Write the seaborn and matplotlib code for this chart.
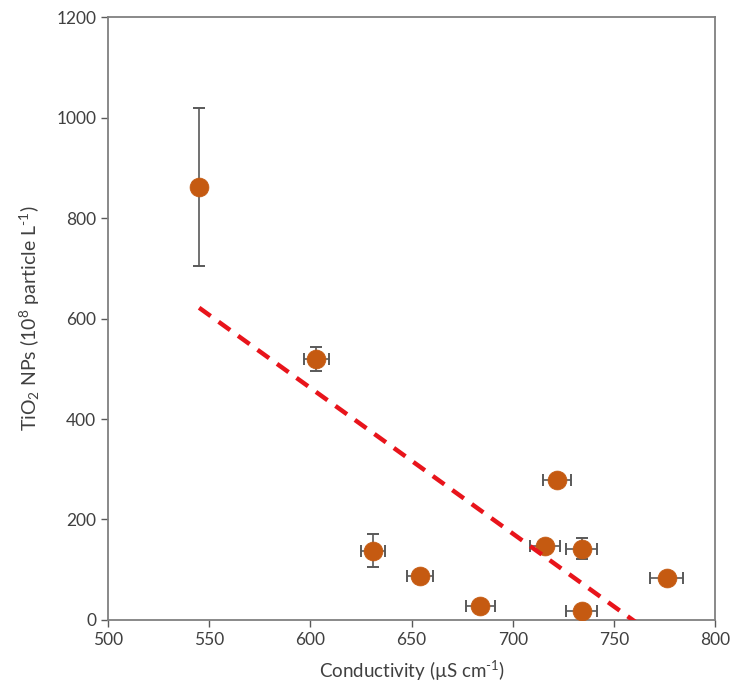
import numpy as np
import pandas as pd
import matplotlib
matplotlib.use("Agg")
import matplotlib.pyplot as plt
import seaborn as sns

# Conductivity vs TiO2 nanoparticle concentration
conductivity = [545, 603, 631, 654, 684, 716, 722, 734, 734, 776]
tio2_nps = [862, 520, 138, 87, 27, 148, 278, 142, 17, 83]
conductivity_err = [3, 6, 6, 6.5, 7, 7.5, 7, 7.5, 7.5, 8]
tio2_err = [157, 24, 33, 10, 6, 10, 10, 21, 8, 8]

x_ticks = [500, 550, 600, 650, 700, 750, 800]
y_ticks = [0, 200, 400, 600, 800, 1000, 1200]

df = pd.DataFrame({"cond": conductivity, "nps": tio2_nps})

sns.set_style("white")
plt.rcParams["font.family"] = ["Lato", "DejaVu Sans"]
plt.rcParams["mathtext.fontset"] = "custom"
plt.rcParams["mathtext.rm"] = "Lato"
plt.rcParams["mathtext.it"] = "Lato:italic"
plt.rcParams["mathtext.bf"] = "Lato:bold"

fig = plt.figure(figsize=(7.35, 6.97), dpi=100)
ax = fig.add_axes([0.147, 0.1105, 0.826, 0.865])

marker_color = "#C55A11"
err_color = "#595959"

ax.errorbar(df["cond"], df["nps"], xerr=conductivity_err, yerr=tio2_err,
            fmt="none", ecolor=err_color, elinewidth=1.2, capsize=4,
            capthick=1.4, zorder=2)

sns.scatterplot(data=df, x="cond", y="nps", ax=ax, color=marker_color,
                s=185, edgecolor=marker_color, linewidth=0.5, zorder=3)

# Least-squares trend line (clipped at y = 0 by the axis limits)
sns.regplot(data=df, x="cond", y="nps", ax=ax, scatter=False, ci=None,
            truncate=True,
            line_kws=dict(color="#E8141B", linewidth=3.2,
                          linestyle=(0, (3.2, 2.2)), zorder=4))

ax.set_xlim(500, 800)
ax.set_ylim(0, 1200)
ax.set_xticks(x_ticks)
ax.set_yticks(y_ticks)
ax.tick_params(axis="both", which="major", labelsize=12.5, colors="#595959",
               length=5, width=1.0, direction="out", bottom=True, left=True,
               labelcolor="#404040")

for side in ["left", "right", "top", "bottom"]:
    ax.spines[side].set_visible(True)
    ax.spines[side].set_color("#808080")
    ax.spines[side].set_linewidth(1.3)

ax.set_xlabel(r"Conductivity (µS cm$^{\text{-1}}$)", fontsize=13.5,
              color="#404040", labelpad=8)
ax.set_ylabel(r"TiO$_{\text{2}}$ NPs (10$^{\text{8}}$ particle L$^{\text{-1}}$)",
              fontsize=14, color="#404040", labelpad=10)

fig.savefig("out.png", dpi=100)
